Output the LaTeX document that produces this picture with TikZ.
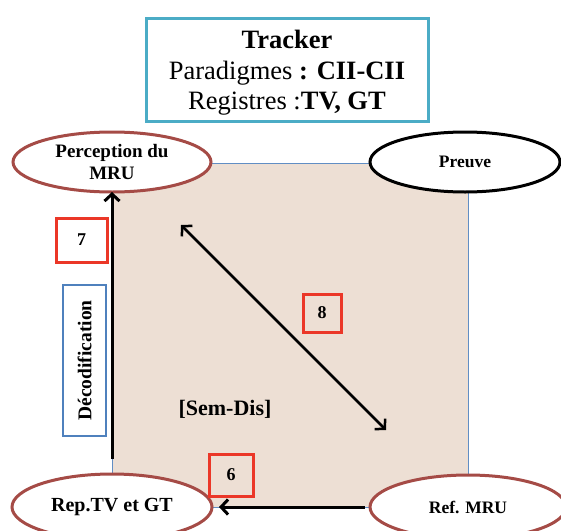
\documentclass[tikz,border=0pt]{standalone}
\usepackage{fontspec}
\setmainfont{Liberation Serif}
\usetikzlibrary{arrows.meta,shapes.geometric}
\definecolor{titleblue}{RGB}{75,172,198}
\definecolor{stagered}{RGB}{165,75,70}
\definecolor{numred}{RGB}{235,55,40}
\definecolor{decblue}{RGB}{79,129,189}
\definecolor{zonefill}{RGB}{237,223,212}
\newcommand{\fs}[1]{\fontsize{#1}{1.15\dimexpr#1pt\relax}\selectfont}
\tikzset{
  stage/.style={ellipse, draw=stagered, line width=3pt, fill=white, inner sep=0pt, outer sep=0pt,
    minimum width=198pt, minimum height=62pt, align=center, font=\bfseries\fs{19}},
  numbox/.style={draw=numred, line width=3pt, inner sep=0pt, font=\bfseries\fs{18}},
  flow/.style={line width=3pt, -{Straight Barb[length=7pt,width=15pt]}}
}
\begin{document}
\begin{tikzpicture}[x=1pt, y=-1pt]
\clip (0,0) rectangle (561,530);
\node[draw=titleblue, line width=3pt, minimum width=282pt, minimum height=103pt, inner sep=0pt] (title) at (287,69.5) {};
\node[align=center, font=\fs{26.5}, inner sep=0pt] (titletext) at ([yshift=-3pt]title.center)
  {\textbf{Tracker}\\[1pt]Paradigmes \textbf{: CII-CII}\\[-1pt]Registres :\textbf{TV, GT}};
\node[draw=decblue!90, fill=zonefill, line width=0.8pt, minimum width=356pt, minimum height=344pt,
  inner sep=0pt, outer sep=0pt] (zone) at (290,335) {};
\node[stage, minimum height=60pt] (perc) at (112,162) {Perception du\\[0pt]MRU};
\node[stage, draw=black, minimum width=190pt, minimum height=60pt, font=\bfseries\fs{17.5}] (preuve) at (465,162) {Preuve};
\node[stage, minimum width=200pt, minimum height=66pt, font=\bfseries\fs{20}] (rep) at (112,507) {Rep.TV et GT};
\node[stage, minimum width=196pt, minimum height=64pt, font=\bfseries\fs{17.5}] (ref) at (468,507) {Ref. MRU};
\node[numbox, minimum width=51pt, minimum height=44pt] (n7) at (81.5,240) {7};
\node[numbox, minimum width=38pt, minimum height=38pt] (n8) at (322,313) {8};
\node[numbox, minimum width=44pt, minimum height=42pt] (n6) at (231,475) {6};
\node[draw=decblue, line width=2.5pt, minimum width=151pt, minimum height=43pt, inner sep=0pt,
  rotate=90, font=\bfseries\fs{19.5}] (decod) at (84.5,360.5) {Décodification};
\node[font=\bfseries\fs{22}] (semdis) at (225,409) {[Sem-Dis]};
\coordinate (d1) at (181,225);
\coordinate (d2) at (386,430);
\draw[flow, shorten <=15pt] (rep.north) -- (perc.south);
\draw[flow, shorten <=5pt, shorten >=7pt] (ref.west) -- (rep.east);
\draw[line width=2.5pt, {Straight Barb[length=7pt,width=15pt]}-{Straight Barb[length=7pt,width=15pt]}] (d1) -- (d2);
\end{tikzpicture}
\end{document}
